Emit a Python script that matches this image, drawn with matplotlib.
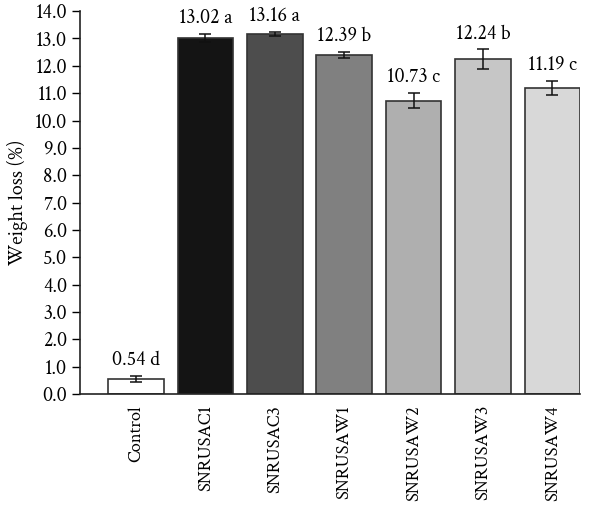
import numpy as np
import matplotlib.pyplot as plt

categories = ['Control', 'SNRUSAC1', 'SNRUSAC3', 'SNRUSAW1', 'SNRUSAW2', 'SNRUSAW3', 'SNRUSAW4']
values = [0.54, 13.02, 13.16, 12.39, 10.73, 12.24, 11.19]
errors = [0.10, 0.13, 0.06, 0.11, 0.26, 0.36, 0.26]
letters = ['d', 'a', 'a', 'b', 'c', 'b', 'c']
colors = ['#ffffff', '#141414', '#4d4d4d', '#808080', '#afafaf', '#c6c6c6', '#d8d8d8']

plt.rcParams['font.family'] = ['Crimson Text', 'Liberation Serif', 'DejaVu Serif']
fs = 14.5

fig = plt.figure(figsize=(6, 5.07), dpi=100)
ax = fig.add_axes([0.133, 0.223, 0.834, 0.755])

x = np.arange(len(categories))
ax.bar(x, values, width=0.8, color=colors, edgecolor='#333333', linewidth=1.2,
       yerr=errors, capsize=4, error_kw=dict(ecolor='#111111', elinewidth=1.1, capthick=1.1))

# value + significance letter above each bar
for xi, v, e, l in zip(x, values, errors, letters):
    ax.text(xi, v + e + 0.22, '%.2f %s' % (v, l), ha='center', va='bottom', fontsize=fs)

ax.set_xlim(-0.81, 6.4)
ax.set_ylim(0, 14)
ticks = np.arange(0, 14.1, 1.0)
ax.set_yticks(ticks)
ax.set_yticklabels(['%.1f' % t for t in ticks], fontsize=fs)
ax.set_xticks(x)
ax.set_xticklabels(categories, rotation=90, fontsize=13.2)
ax.tick_params(axis='x', length=0, pad=8)
ax.tick_params(axis='y', length=6, width=1, direction='out', pad=3)
ax.set_ylabel('Weight loss (%)', fontsize=fs, labelpad=5)

for s in ['top', 'right']:
    ax.spines[s].set_visible(False)
for s in ['left', 'bottom']:
    ax.spines[s].set_linewidth(1.2)
    ax.spines[s].set_color('#222222')

fig.savefig('out.png', dpi=100)
